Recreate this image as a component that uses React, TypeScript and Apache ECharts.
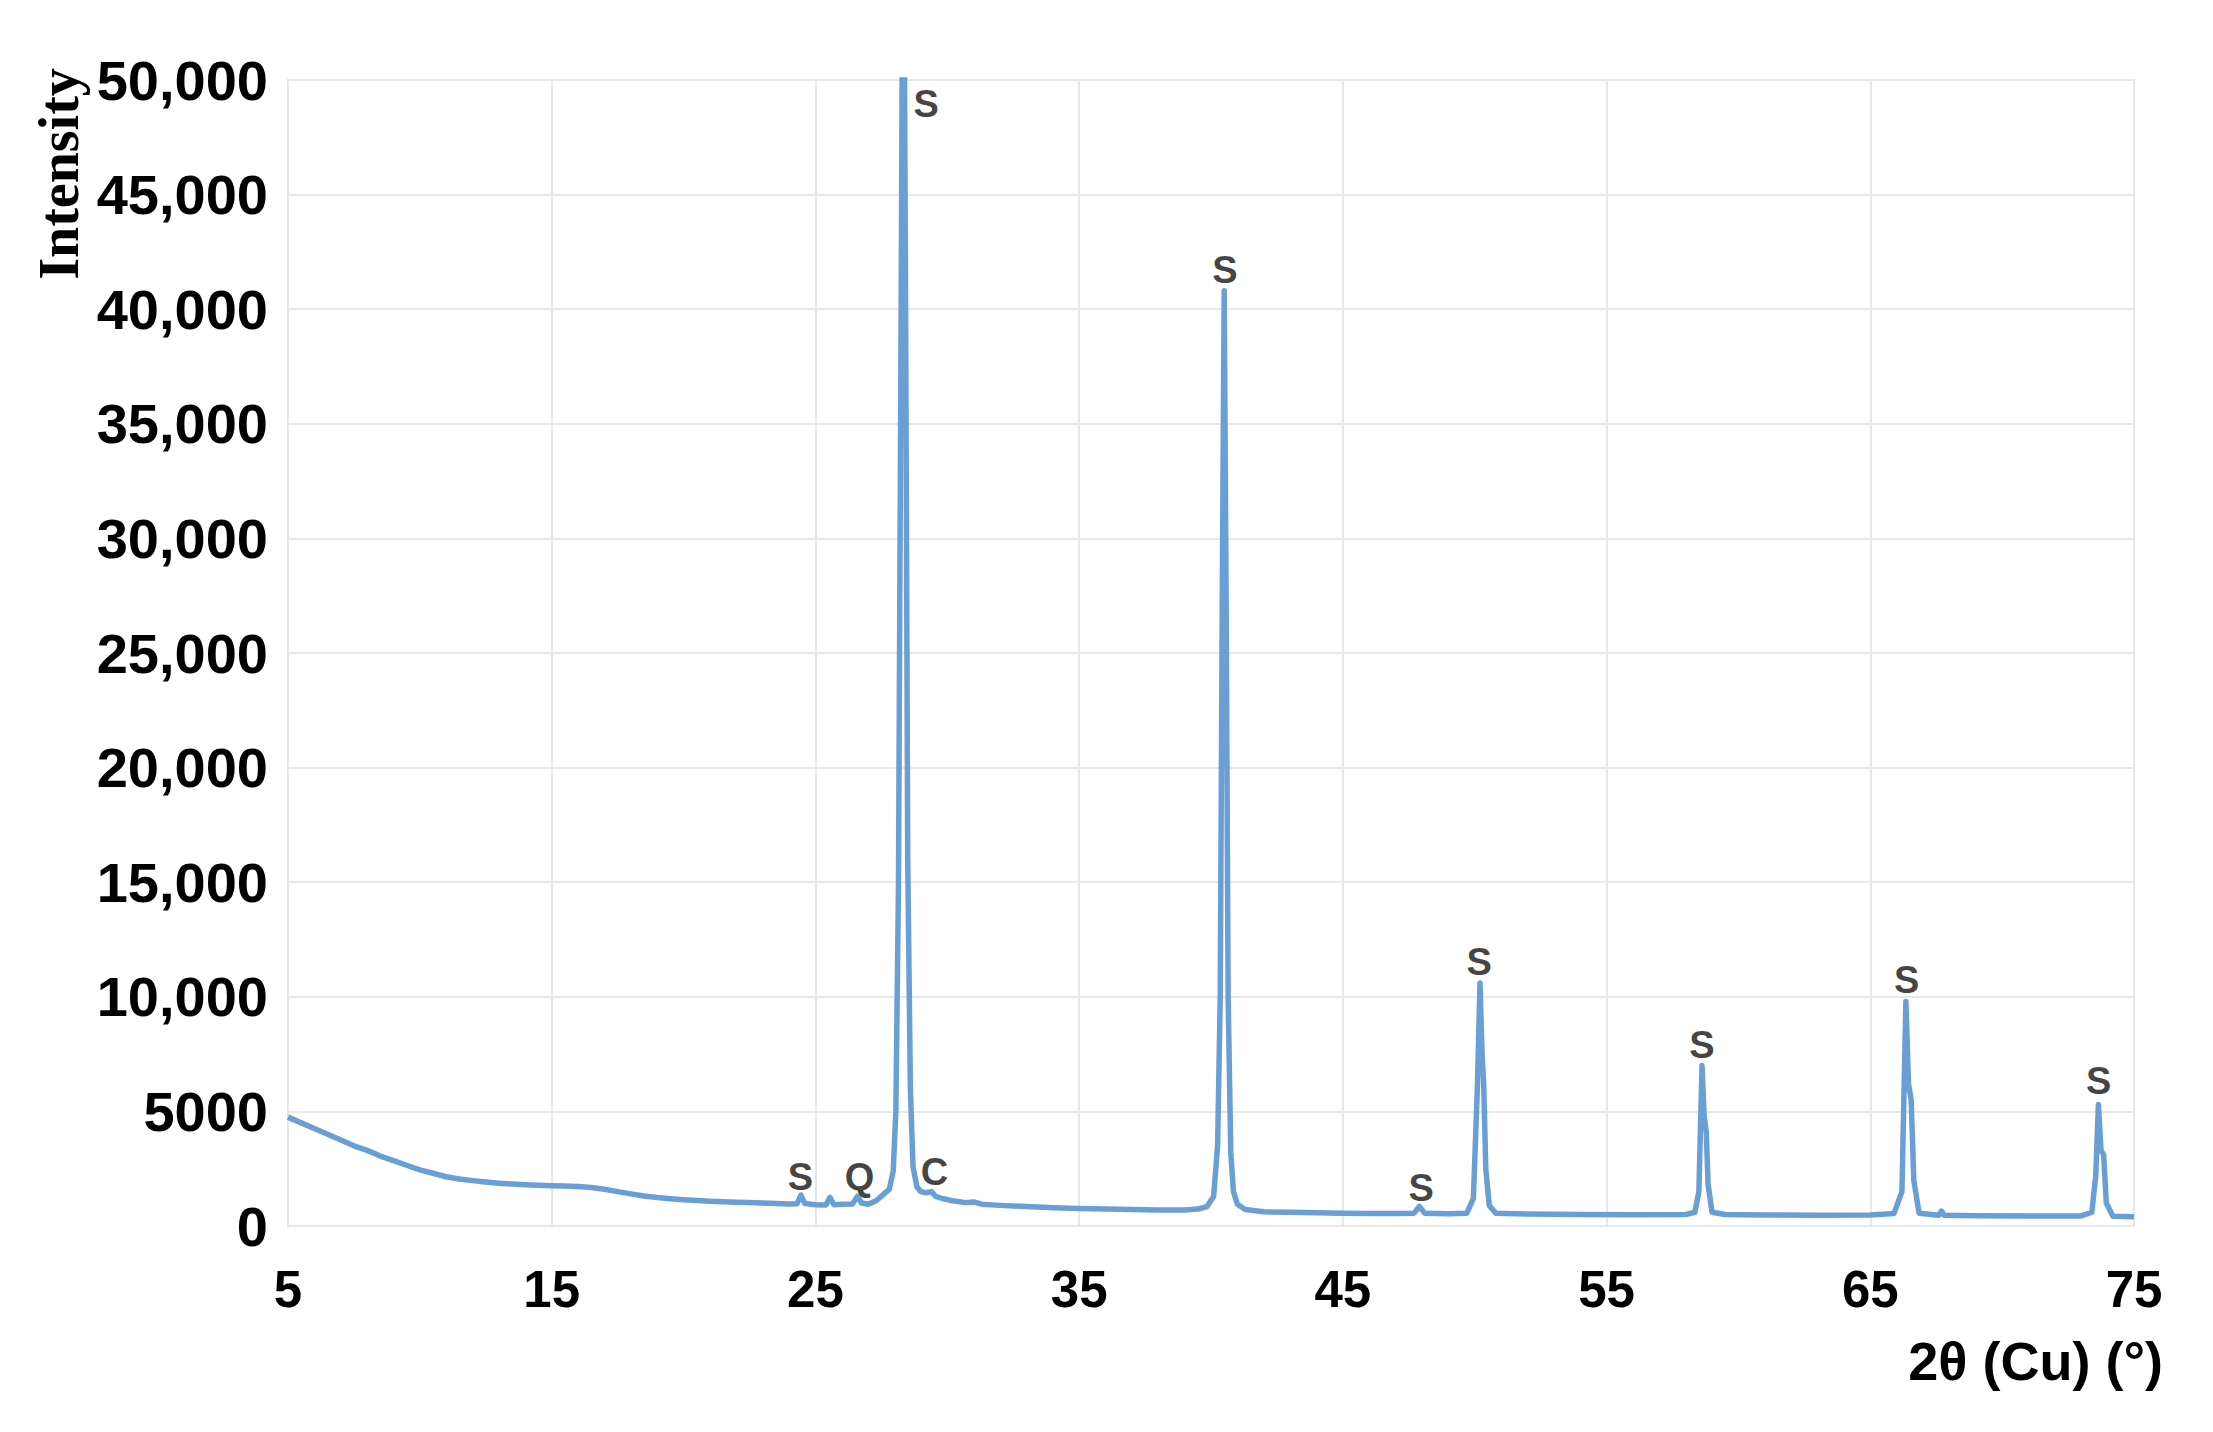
import React, { useEffect, useRef } from "react";
import * as echarts from "echarts";

// 2θ positions (degrees) and intensities
const twoTheta = [
  5.0, 5.5, 6.0, 6.5, 7.0, 7.5, 8.0, 8.5, 9.0, 9.5, 10.0, 10.5, 11.0, 11.5, 12.0, 12.5, 13.0, 13.5, 14.0, 14.5,
  15.0, 15.5, 16.0, 16.5, 17.0, 17.5, 18.0, 18.5, 19.0, 19.5, 20.0, 20.5, 21.0, 21.5, 22.0, 22.5, 23.0, 23.5, 24.0,
  24.3, 24.45, 24.6, 25.0, 25.4, 25.55, 25.7, 26.0, 26.4, 26.6, 26.75, 27.0, 27.3, 27.6, 27.8, 27.95, 28.05, 28.15,
  28.25, 28.33, 28.42, 28.5, 28.6, 28.7, 28.85, 29.0, 29.2, 29.4, 29.55, 29.8, 30.2, 30.7, 31.0, 31.3, 32.0, 33.0,
  34.0, 35.0, 36.0, 37.0, 38.0, 39.0, 39.5, 39.85, 40.1, 40.25, 40.35, 40.43, 40.5, 40.57, 40.65, 40.75, 40.85, 41.0,
  41.3, 42.0, 43.0, 44.0, 45.0, 46.0, 47.0, 47.7, 47.9, 48.1, 49.0, 49.7, 49.95, 50.1, 50.2, 50.28, 50.34, 50.42,
  50.55, 50.8, 52.0, 54.0, 56.0, 58.0, 58.35, 58.5, 58.62, 58.7, 58.78, 58.85, 59.0, 59.5, 61.0, 63.0, 65.0, 65.9,
  66.2, 66.35, 66.45, 66.55, 66.65, 66.85, 67.6, 67.7, 67.8, 69.0, 71.0, 73.0, 73.4, 73.55, 73.65, 73.75, 73.85,
  73.95, 74.2, 75.0,
];
const intensity = [
  4750, 4500, 4250, 4000, 3750, 3500, 3300, 3050, 2850, 2650, 2450, 2300, 2150, 2050, 1980, 1920, 1870, 1830, 1800, 1780,
  1760, 1740, 1720, 1680, 1600, 1500, 1400, 1310, 1240, 1190, 1150, 1110, 1080, 1060, 1040, 1020, 1000, 980, 960,
  970, 1350, 980, 930, 920, 1250, 930, 950, 960, 1300, 1000, 950, 1100, 1400, 1600, 2400, 5000, 15000,
  40000, 62000, 40000, 16000, 6000, 2600, 1700, 1500, 1450, 1500, 1300, 1200, 1100, 1020, 1050, 950, 900, 850,
  800, 760, 740, 720, 700, 700, 740, 850, 1300, 3500, 10000, 28000, 40800, 28000, 10000, 3200, 1500, 950,
  720, 620, 600, 580, 560, 550, 540, 560, 850, 560, 530, 560, 1200, 6000, 10600, 7500, 6200, 2500,
  900, 560, 520, 500, 490, 500, 600, 1500, 7000, 4800, 4100, 1800, 600, 500, 480, 470, 480, 550,
  1500, 9800, 6200, 5500, 2000, 560, 470, 650, 470, 450, 440, 440, 600, 2200, 5300, 3300, 3100,
  1000, 430, 400,
];

// Phase labels (S = sylvite, Q = quartz, C = calcite)
const peakLabelText = ["S", "S", "S", "S", "S", "S", "S", "S", "Q", "C"];
const peakLabelX = [29.2, 40.53, 50.17, 58.62, 66.38, 73.66, 47.97, 24.43, 26.67, 29.51];
const peakLabelY = [48950, 41690, 11515, 7880, 10715, 6340, 1660, 2155, 2155, 2340];

const yTickLabels = ["0", "5000", "10,000", "15,000", "20,000", "25,000", "30,000", "35,000", "40,000", "45,000", "50,000"];
const xTicks = [5, 15, 25, 35, 45, 55, 65, 75];

export default function App() {
  const ref = useRef<HTMLDivElement>(null);
  useEffect(() => {
    if (!ref.current) return;
    const chart = echarts.init(ref.current, undefined, { renderer: "svg" });
    const lineData = twoTheta.map((t, i) => [t, intensity[i]]);
    const labelData = peakLabelX.map((x, i) => ({ name: peakLabelText[i], value: [x, peakLabelY[i]] }));
    chart.setOption({
      animation: false,
      backgroundColor: "#ffffff",
      grid: {
        left: 288,
        right: 79,
        top: 80,
        bottom: 206,
        show: true,
        borderColor: "#dedede",
        borderWidth: 2,
        backgroundColor: "transparent",
      },
      xAxis: {
        type: "value",
        min: xTicks[0],
        max: xTicks[xTicks.length - 1],
        interval: 10,
        axisLine: { show: false },
        axisTick: { show: false },
        splitLine: { show: true, lineStyle: { color: "#e8e8e8", width: 2 } },
        axisLabel: {
          margin: 38,
          fontSize: 51,
          fontWeight: "bold",
          fontFamily: "Liberation Sans, Arial, sans-serif",
          color: "#000",
        },
      },
      yAxis: {
        type: "value",
        min: 0,
        max: 50000,
        interval: 5000,
        axisLine: { show: false },
        axisTick: { show: false },
        splitLine: { show: true, lineStyle: { color: "#e8e8e8", width: 2 } },
        axisLabel: {
          margin: 20,
          fontSize: 56,
          fontWeight: "bold",
          fontFamily: "Liberation Sans, Arial, sans-serif",
          color: "#000",
          formatter: (v: number) => yTickLabels[Math.round(v / 5000)] ?? String(v),
        },
      },
      series: [
        {
          type: "line",
          data: lineData,
          showSymbol: false,
          symbol: "none",
          clip: true,
          lineStyle: { color: "#6a9fd6", width: 5.5, join: "round" },
          z: 2,
        },
        {
          type: "scatter",
          data: labelData,
          symbol: "circle",
          symbolSize: 1,
          itemStyle: { color: "rgba(0,0,0,0)" },
          label: {
            show: true,
            position: "inside",
            formatter: (p: any) => p.name,
            fontSize: 38,
            fontWeight: "bold",
            fontFamily: "Liberation Sans, Arial, sans-serif",
            color: "#111",
          },
          z: 3,
        },
      ],
      graphic: [
        {
          type: "text",
          x: 59,
          y: 174,
          rotation: Math.PI / 2,
          style: {
            text: "Intensity",
            fontSize: 56,
            fontWeight: "bold",
            fontFamily: "Liberation Serif, Times New Roman, serif",
            fill: "#000",
            align: "center",
            verticalAlign: "middle",
          },
        },
        {
          type: "text",
          x: 2163,
          y: 1361,
          style: {
            text: "2θ (Cu) (°)",
            fontSize: 54,
            fontWeight: "bold",
            fontFamily: "Liberation Sans, Arial, sans-serif",
            fill: "#000",
            align: "right",
            verticalAlign: "middle",
          },
        },
      ],
    });
    return () => chart.dispose();
  }, []);
  return (
    <div
      ref={ref}
      style={{ position: "fixed", left: 0, top: 0, width: 2213, height: 1432, background: "#fff" }}
    />
  );
}
